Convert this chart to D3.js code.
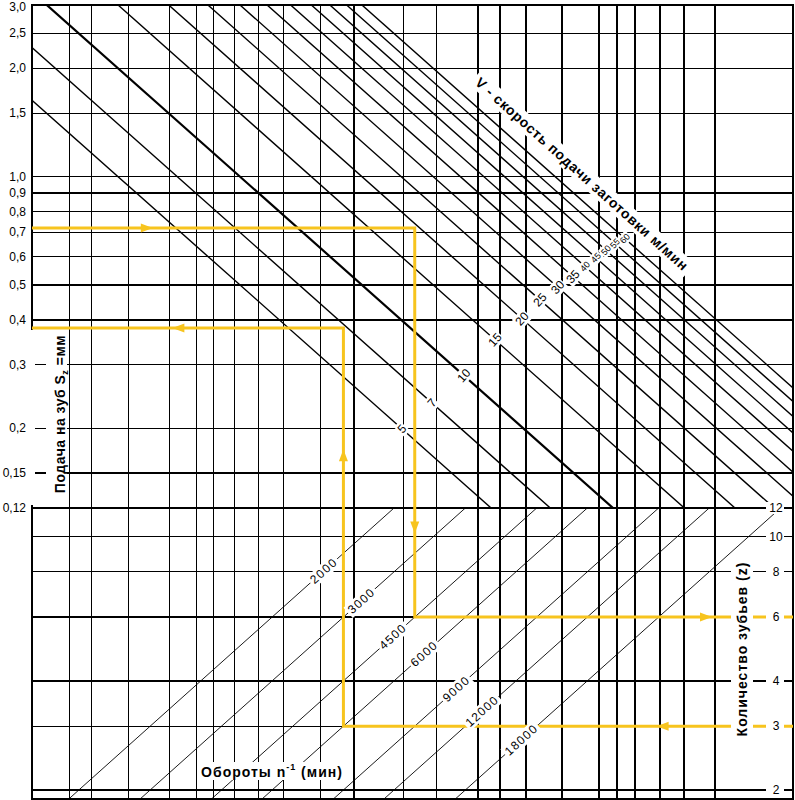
<!DOCTYPE html>
<html>
<head>
<meta charset="utf-8">
<script src="https://cdn.jsdelivr.net/npm/d3@7"></script>
<style>
body { margin: 0; background: #fff; }
svg { display: block; font-family: "Liberation Sans", Arial, sans-serif; }
</style>
</head>
<body>
<div id="chart"></div>
<script>
// feed per tooth S_z (mm), top half
const feedTicks = [3.0, 2.5, 2.0, 1.5, 1.0, 0.9, 0.8, 0.7, 0.6, 0.5, 0.4, 0.3, 0.2, 0.15, 0.12];
// number of teeth z, bottom half
const teethTicks = [12, 10, 8, 6, 4, 3, 2];
// feed speed lines V, m/min
const speedValues = [5, 7, 10, 15, 20, 25, 30, 35, 40, 45, 50, 55, 60];
// where each V label sits (n*z)
const speedLabelAt = [25100, 29770, 35700, 42600, 49700, 55000, 60900, 66400, 71100, 75650, 80100, 84300, 89200];
// spindle speed lines n, 1/min
const rpmValues = [2000, 3000, 4500, 6000, 9000, 12000, 18000];
// where each n label sits (z)
const rpmLabelAt = [8.05, 6.65, 5.3, 4.75, 3.8, 3.3, 2.75];
// vertical grid lines (n*z)
const gridNZ = [3800, 4300, 5300, 6700, 7800, 8600, 9700, 11100, 12800, 15800, 19100,
	25300, 30600, 38700, 43800, 50800, 62400, 77000, 85300, 94400, 108900, 124700, 148800];
// the two worked examples
const exampleFeed = [0.72, 0.38];
const exampleNZ = [27000, 18000];
const exampleTeeth = [6, 3];

const W = 795, H = 800;
const pLeft = 32, pRight = 793, pTop = 5, pMid = 508, pBottom = 799;
const YELLOW = '#f7c41e';

const svg = d3.select('#chart').append('svg')
	.attr('width', W)
	.attr('height', H);

const x = d3.scaleLog().domain([3065, 231850]).range([pLeft, pRight]);
const yFeed = d3.scaleLog().domain([3.0, 0.12]).range([pTop, pMid]);
const yTeeth = d3.scaleLog().domain([12, 2]).range([pMid, 790]);

const defs = svg.append('defs');
defs.append('clipPath').attr('id', 'clipTop')
	.append('rect').attr('x', pLeft).attr('y', pTop).attr('width', pRight - pLeft).attr('height', pMid - pTop);
defs.append('clipPath').attr('id', 'clipBottom')
	.append('rect').attr('x', pLeft).attr('y', pMid).attr('width', pRight - pLeft).attr('height', pBottom - pMid);

//grid
const grid = svg.append('g')
	.style('stroke', '#000')
	.style('stroke-width', '1.3px')
	.style('shape-rendering', 'crispEdges');

grid.selectAll('.vline')
	.data(gridNZ)
	.enter()
	.append('line')
	.attr('x1', d => x(d)).attr('x2', d => x(d))
	.attr('y1', pTop).attr('y2', pBottom);

grid.selectAll('.hfeed')
	.data(feedTicks)
	.enter()
	.append('line')
	.attr('x1', pLeft).attr('x2', pRight)
	.attr('y1', d => yFeed(d)).attr('y2', d => yFeed(d));

grid.selectAll('.hteeth')
	.data(teethTicks)
	.enter()
	.append('line')
	.attr('x1', pLeft).attr('x2', pRight)
	.attr('y1', d => yTeeth(d)).attr('y2', d => yTeeth(d));

grid.append('rect')
	.attr('x', pLeft).attr('y', pTop)
	.attr('width', pRight - pLeft).attr('height', pBottom - pTop)
	.style('fill', 'none');

//V lines: S = 1000 V / (n z)
const nzEnds = x.domain();
svg.append('g')
	.attr('clip-path', 'url(#clipTop)')
	.selectAll('line')
	.data(speedValues)
	.enter()
	.append('line')
	.attr('x1', x(nzEnds[0]))
	.attr('y1', d => yFeed(1000 * d / nzEnds[0]))
	.attr('x2', x(nzEnds[1]))
	.attr('y2', d => yFeed(1000 * d / nzEnds[1]))
	.style('stroke', '#000')
	.style('stroke-width', d => d === 10 ? '2.2px' : '1.4px');

//n lines: z = nz / n
const zBottom = yTeeth.invert(pBottom);
const zTop = yTeeth.invert(pMid);
svg.append('g')
	.attr('clip-path', 'url(#clipBottom)')
	.selectAll('line')
	.data(rpmValues)
	.enter()
	.append('line')
	.attr('x1', d => x(d * zBottom))
	.attr('y1', pBottom)
	.attr('x2', d => x(d * zTop))
	.attr('y2', pMid)
	.style('stroke', '#000')
	.style('stroke-width', '0.9px');

//worked examples
const ex = svg.append('g')
	.style('stroke', YELLOW)
	.style('stroke-width', '3px')
	.style('fill', 'none');

exampleFeed.forEach((s, i) => {
	const pts = [
		[pLeft, yFeed(s)],
		[x(exampleNZ[i]), yFeed(s)],
		[x(exampleNZ[i]), yTeeth(exampleTeeth[i])],
		[pRight, yTeeth(exampleTeeth[i])]
	];
	ex.append('path').attr('d', d3.line()(pts));
});

//label with white box behind it
function boxedLabel(parent, txt, cx, cy, angle, size, weight, padX, padY, spacing) {
	const g = parent.append('g')
		.attr('transform', 'translate(' + cx + ',' + cy + ') rotate(' + angle + ')');
	const r = g.append('rect').style('fill', '#fff');
	const t = g.append('text')
		.attr('text-anchor', 'middle')
		.attr('dominant-baseline', 'central')
		.style('font-size', size + 'px')
		.style('font-weight', weight)
		.style('letter-spacing', (spacing || 0) + 'px')
		.text(txt);
	const w = t.node().getComputedTextLength();
	r.attr('x', -w / 2 - padX).attr('y', -size / 2 - padY)
		.attr('width', w + 2 * padX).attr('height', size + 2 * padY);
	return t;
}

const labels = svg.append('g');

speedValues.forEach((v, i) => {
	const nz = speedLabelAt[i];
	boxedLabel(labels, v, x(nz), yFeed(1000 * v / nz), -48, v >= 40 ? 9 : 12, 'normal', 1, 1, 0);
});

rpmValues.forEach((n, i) => {
	const z = rpmLabelAt[i];
	boxedLabel(labels, n, x(n * z), yTeeth(z), -42, 12, 'normal', 2, 1, 1.3);
});

boxedLabel(labels, 'V - скорость подачи заготовки м/мин', 582, 174, 42, 14, 'bold', 4, 2, 0.7);

//left axis label
labels.append('rect')
	.attr('x', pLeft - 2).attr('y', 330)
	.attr('width', 37).attr('height', 175)
	.style('fill', '#fff');
labels.selectAll('.tick')
	.data(feedTicks.filter(d => yFeed(d) > 330 && yFeed(d) < 505))
	.enter()
	.append('line')
	.attr('x1', 35).attr('x2', 46)
	.attr('y1', d => yFeed(d)).attr('y2', d => yFeed(d))
	.style('stroke', '#000')
	.style('stroke-width', '1.3px')
	.style('shape-rendering', 'crispEdges');

const sLabel = labels.append('text')
	.attr('transform', 'translate(60,414) rotate(-90)')
	.attr('text-anchor', 'middle')
	.attr('dominant-baseline', 'central')
	.style('font-size', '14px')
	.style('font-weight', 'bold')
	.style('letter-spacing', '0.5px');
sLabel.append('tspan').text('Подача на зуб S');
sLabel.append('tspan').attr('baseline-shift', 'sub').style('font-size', '9px').text('z');
sLabel.append('tspan').text(' =мм');

//right axis label
boxedLabel(labels, 'Количество зубьев (z)', 742, 649, -90, 14, 'bold', 5, 4, 1);

//bottom label
const nLabelBg = labels.append('rect').style('fill', '#fff');
const nLabel = labels.append('text')
	.attr('x', 272).attr('y', 772)
	.attr('text-anchor', 'middle')
	.attr('dominant-baseline', 'central')
	.style('font-size', '14px')
	.style('font-weight', 'bold')
	.style('letter-spacing', '1px');
nLabel.append('tspan').text('Обороты  n');
nLabel.append('tspan').attr('baseline-shift', 'super').style('font-size', '9px').text('-1');
nLabel.append('tspan').text(' (мин)');
const nb = nLabel.node().getBBox();
nLabelBg.attr('x', nb.x - 3).attr('y', nb.y).attr('width', nb.width + 6).attr('height', nb.height);

//tick labels (the top one is nudged down so it stays on the page)
svg.append('g')
	.selectAll('text')
	.data(feedTicks)
	.enter()
	.append('text')
	.attr('x', 26)
	.attr('y', d => Math.max(yFeed(d), 7))
	.attr('text-anchor', 'end')
	.attr('dominant-baseline', 'central')
	.style('font-size', '12px')
	.text(d => d3.format(d <= 0.15 ? '.2f' : '.1f')(d).replace('.', ','));

const zt = svg.append('g');
teethTicks.forEach(z => {
	zt.append('rect')
		.attr('x', 766).attr('y', yTeeth(z) - 6)
		.attr('width', 18).attr('height', 12)
		.style('fill', '#fff');
	zt.append('text')
		.attr('x', 776).attr('y', yTeeth(z))
		.attr('text-anchor', 'middle')
		.attr('dominant-baseline', 'central')
		.style('font-size', '12px')
		.text(z);
});

//arrows
function arrow(px, py, angle) {
	svg.append('path')
		.attr('d', 'M6,0 L-6,-4.5 L-6,4.5 Z')
		.attr('transform', 'translate(' + px + ',' + py + ') rotate(' + angle + ')')
		.style('fill', YELLOW);
}
// example 1: right, down, right
const e1x = x(exampleNZ[0]), e1y = yFeed(exampleFeed[0]), e1z = yTeeth(exampleTeeth[0]);
arrow(pLeft + 0.3 * (e1x - pLeft), e1y, 0);
arrow(e1x, e1y + 0.77 * (e1z - e1y), 90);
arrow(e1x + 0.77 * (pRight - e1x), e1z, 0);
// example 2: left, up, left
const e2x = x(exampleNZ[1]), e2y = yFeed(exampleFeed[1]), e2z = yTeeth(exampleTeeth[1]);
arrow(pRight - 0.29 * (pRight - e2x), e2z, 180);
arrow(e2x, e2z - 0.68 * (e2z - e2y), -90);
arrow(e2x - 0.53 * (e2x - pLeft), e2y, 180);
</script>
</body>
</html>
